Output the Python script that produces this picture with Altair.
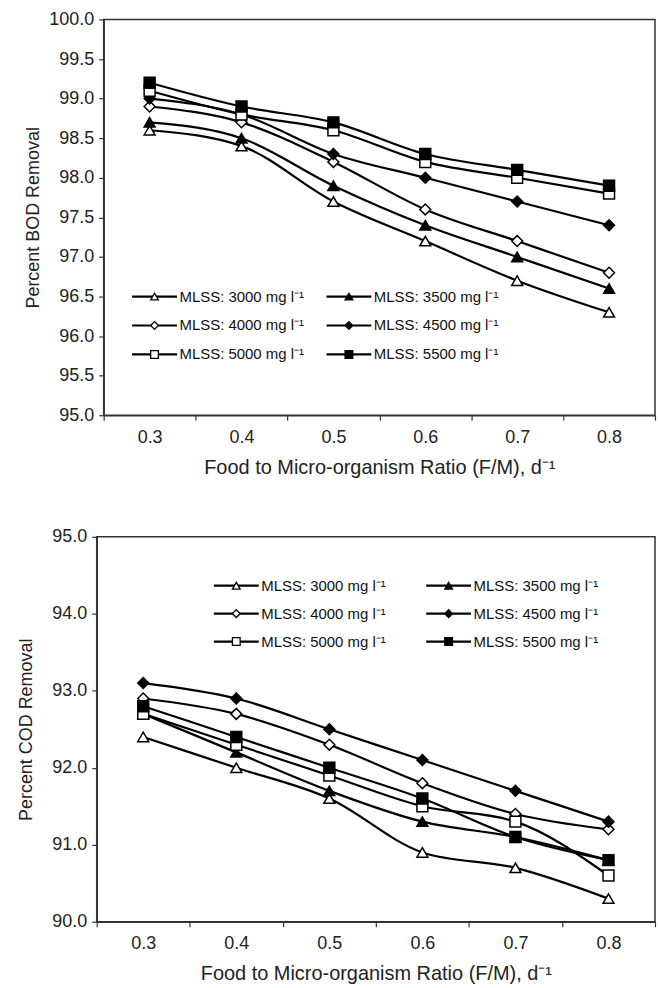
import altair as alt
import pandas as pd

fm = ["0.3", "0.4", "0.5", "0.6", "0.7", "0.8"]
labels = ["MLSS: 3000 mg l⁻¹", "MLSS: 3500 mg l⁻¹", "MLSS: 4000 mg l⁻¹",
          "MLSS: 4500 mg l⁻¹", "MLSS: 5000 mg l⁻¹", "MLSS: 5500 mg l⁻¹"]

bod_3000 = [98.6, 98.4, 97.7, 97.2, 96.7, 96.3]
bod_3500 = [98.7, 98.5, 97.9, 97.4, 97.0, 96.6]
bod_4000 = [98.9, 98.7, 98.2, 97.6, 97.2, 96.8]
bod_4500 = [99.0, 98.8, 98.3, 98.0, 97.7, 97.4]
bod_5000 = [99.1, 98.8, 98.6, 98.2, 98.0, 97.8]
bod_5500 = [99.2, 98.9, 98.7, 98.3, 98.1, 97.9]

cod_3000 = [92.4, 92.0, 91.6, 90.9, 90.7, 90.3]
cod_3500 = [92.7, 92.2, 91.7, 91.3, 91.1, 90.8]
cod_4000 = [92.9, 92.7, 92.3, 91.8, 91.4, 91.2]
cod_4500 = [93.1, 92.9, 92.5, 92.1, 91.7, 91.3]
cod_5000 = [92.7, 92.3, 91.9, 91.5, 91.3, 90.6]
cod_5500 = [92.8, 92.4, 92.0, 91.6, 91.1, 90.8]

bod_ticks = [95.0, 95.5, 96.0, 96.5, 97.0, 97.5, 98.0, 98.5, 99.0, 99.5, 100.0]
cod_ticks = [90.0, 91.0, 92.0, 93.0, 94.0, 95.0]

shapes = ["triangle-up", "triangle-up", "diamond", "diamond", "square", "square"]
fills = ["white", "black", "white", "black", "white", "black"]
sizes = [120, 120, 60, 110, 100, 110]

FONT = "Liberation Sans"
FRAME = "#333"


def long_df(series_lists):
    rows = []
    for lab, vals in zip(labels, series_lists):
        for f, v in zip(fm, vals):
            rows.append({"fm": f, "series": lab, "value": v})
    return pd.DataFrame(rows)


bod_df = long_df([bod_3000, bod_3500, bod_4000, bod_4500, bod_5000, bod_5500])
cod_df = long_df([cod_3000, cod_3500, cod_4000, cod_4500, cod_5000, cod_5500])
leg_df = pd.DataFrame({"series": labels,
                       "col": [i % 2 for i in range(len(labels))],
                       "row": [i // 2 for i in range(len(labels))]})
frame_df = pd.DataFrame({"frame": [1]})

shape_enc = alt.Shape("series:N", sort=labels,
                      scale=alt.Scale(domain=labels, range=shapes), legend=None)
fill_enc = alt.Fill("series:N", sort=labels,
                    scale=alt.Scale(domain=labels, range=fills), legend=None)
size_enc = alt.Size("series:N", sort=labels,
                    scale=alt.Scale(domain=labels, range=sizes), legend=None)


def panel(df, ydom, yticks, ytitle, w, h, inset, title_pad, leg_xr, leg_yr):
    # inset: left margin (px) inside the group before the plot frame starts
    x = alt.X("fm:N", sort=fm,
              scale=alt.Scale(type="band", paddingInner=0, paddingOuter=0,
                              range=[inset, w]),
              axis=alt.Axis(title="Food to Micro-organism Ratio (F/M), d⁻¹",
                            labelAngle=0, tickBand="extent", grid=False,
                            labelPadding=8, titlePadding=11,
                            titleFontSize=20))
    y = alt.Y("value:Q",
              scale=alt.Scale(domain=ydom, nice=False, zero=False),
              axis=alt.Axis(values=yticks, format=".1f", title=ytitle,
                            grid=False, titlePadding=title_pad, labelPadding=5,
                            titleFontSize=18, offset=-inset))
    base = alt.Chart(df)
    lines = base.mark_line(interpolate="monotone", color="black",
                           strokeWidth=2.2).encode(
        x=x, y=y, detail=alt.Detail("series:N"))
    pts = base.mark_point(filled=True, stroke="black", strokeWidth=1.5,
                          opacity=1).encode(
        x=x, y=y, shape=shape_enc, fill=fill_enc, size=size_enc)
    main = alt.layer(lines, pts)

    frame = alt.Chart(frame_df).mark_rect(
        fill="transparent", stroke=FRAME, strokeWidth=1.5).encode(
        x=alt.value(inset), x2=alt.value(w), y=alt.value(0), y2=alt.value(h))

    lx = alt.X("col:Q", scale=alt.Scale(domain=[0, 1], range=leg_xr), axis=None)
    ly = alt.Y("row:Q", scale=alt.Scale(domain=[0, 2], range=leg_yr), axis=None)
    lbase = alt.Chart(leg_df)
    lline = lbase.mark_point(shape="M-1,0L1,0", size=2025, filled=False,
                             stroke="black", strokeWidth=2.2,
                             opacity=1).encode(x=lx, y=ly)
    lmark = lbase.mark_point(filled=True, stroke="black", strokeWidth=1.3,
                             opacity=1, size=60).encode(
        x=lx, y=ly, shape=shape_enc, fill=fill_enc)
    ltext = lbase.mark_text(align="left", baseline="middle", dx=25,
                            fontSize=15, font=FONT, color="#111").encode(
        x=lx, y=ly, text="series:N")
    legend = alt.layer(lline, lmark, ltext)

    return alt.layer(frame, main, legend).resolve_scale(
        x="independent", y="independent").properties(width=w, height=h)


# top frame starts 7 px right of the bottom frame, as in the original figure
top = panel(bod_df, [95, 100], bod_ticks, "Percent BOD Removal", 560, 397, 7, 6,
            [58, 253], [278, 336])
bottom = panel(cod_df, [90, 95], cod_ticks, "Percent COD Removal", 560, 386, 0, 16,
               [140, 353], [49, 105])

chart = alt.concat(top, bottom, columns=1, spacing=51).properties(
    padding={"left": 17, "top": 9, "right": 2, "bottom": 0}
).configure_view(
    stroke=None
).configure_axis(
    labelFont=FONT, titleFont=FONT, labelFontSize=18, titleFontSize=19,
    labelColor="#222", titleColor="#222", titleFontWeight="normal",
    domainColor=FRAME, tickColor=FRAME, domainWidth=1.5, tickWidth=1.2,
    tickSize=5
)

chart.save("out.html", embed_options={"renderer": "svg", "actions": False})
